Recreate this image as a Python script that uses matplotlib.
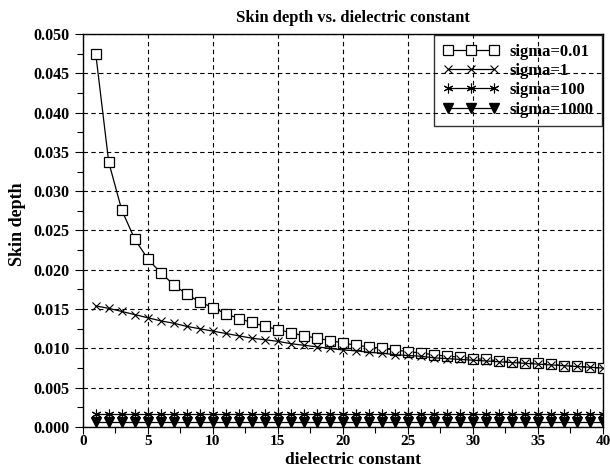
import matplotlib
matplotlib.use("Agg")
import matplotlib.pyplot as plt
from matplotlib.ticker import MultipleLocator, FormatStrFormatter

eps_r = list(range(1, 41))

depth_sigma_001 = [0.0475, 0.0337, 0.0276, 0.0239, 0.0214, 0.0196, 0.0181, 0.0169,
                   0.0159, 0.0152, 0.0144, 0.0138, 0.0133, 0.0128, 0.0124, 0.0120,
                   0.0116, 0.0113, 0.0110, 0.0107, 0.0104, 0.0102, 0.0100, 0.0098,
                   0.0096, 0.0094, 0.0092, 0.0090, 0.0089, 0.0087, 0.0086, 0.0084,
                   0.0083, 0.0082, 0.0081, 0.0080, 0.0078, 0.0077, 0.0076, 0.0075]
depth_sigma_1 = [0.0154, 0.0151, 0.0147, 0.0143, 0.0139, 0.0135, 0.0132, 0.0128,
                 0.0125, 0.0122, 0.0119, 0.0116, 0.0113, 0.0111, 0.0109, 0.0106,
                 0.0104, 0.0102, 0.0100, 0.0098, 0.0097, 0.0095, 0.0094, 0.0092,
                 0.0091, 0.0090, 0.0088, 0.0087, 0.0086, 0.0085, 0.0084, 0.0083,
                 0.0082, 0.0081, 0.0080, 0.0079, 0.0078, 0.0077, 0.0076, 0.0075]
depth_sigma_100 = [0.0017] * 40
depth_sigma_1000 = [0.0006] * 40

series_labels = ["sigma=0.01", "sigma=1", "sigma=100", "sigma=1000"]
x_ticks = [0, 5, 10, 15, 20, 25, 30, 35, 40]
y_ticks = [0.000, 0.005, 0.010, 0.015, 0.020, 0.025, 0.030, 0.035, 0.040, 0.045, 0.050]

plt.rcParams["font.family"] = ["Liberation Serif", "DejaVu Serif"]
plt.rcParams["font.weight"] = "bold"

fig = plt.figure(figsize=(6.10, 4.68), dpi=100)
ax = fig.add_axes([0.1356, 0.0876, 0.8529, 0.8398])

line_kw = dict(color="black", linewidth=0.9)
ax.plot(eps_r, depth_sigma_001, marker="s", markersize=6.5, markerfacecolor="white",
        markeredgecolor="black", markeredgewidth=0.9, label=series_labels[0], zorder=3,
        **line_kw)
ax.plot(eps_r, depth_sigma_1, marker="x", markersize=6, markeredgewidth=0.8,
        label=series_labels[1], zorder=4, **line_kw)
ax.plot(eps_r, depth_sigma_100, marker=(6, 2, 0), markersize=7, markeredgewidth=0.8,
        label=series_labels[2], zorder=4, **line_kw)
ax.plot(eps_r, depth_sigma_1000, marker="v", markersize=6.5, markerfacecolor="black",
        label=series_labels[3], zorder=4, **line_kw)

ax.set_xlim(0, 40)
ax.set_ylim(0, 0.050)
ax.set_xticks(x_ticks)
ax.set_yticks(y_ticks)
ax.xaxis.set_minor_locator(MultipleLocator(2.5))
ax.yaxis.set_minor_locator(MultipleLocator(0.0025))
ax.yaxis.set_major_formatter(FormatStrFormatter("%.3f"))
ax.tick_params(axis="y", which="major", direction="out", length=6, width=0.8,
               labelsize=11.5, right=False)
ax.tick_params(axis="x", which="major", direction="out", length=5, width=0.8,
               pad=1, labelsize=11, top=False)
ax.tick_params(axis="both", which="minor", direction="out", length=4, width=0.8,
               top=False, right=False)
for lab in ax.get_xticklabels() + ax.get_yticklabels():
    lab.set_fontweight("bold")

ax.grid(True, which="major", linestyle=(0, (4, 3)), color="black", linewidth=0.8)
for side in ax.spines.values():
    side.set_linewidth(1.0)

fig.text(353 / 610, 1 - 18 / 468, "Skin depth vs. dielectric constant",
         fontsize=12, fontweight="bold", ha="center", va="center")
ax.set_xlabel("dielectric constant", fontsize=12.5, fontweight="bold", va="center")
ax.xaxis.set_label_coords((353 - 82.7) / 520.3, -32.5 / 393)
ax.set_ylabel("Skin depth", fontsize=13, fontweight="bold", labelpad=5, y=0.5165)

leg = ax.legend(loc="upper right", numpoints=3, fontsize=12, frameon=True,
                facecolor="none", edgecolor="black", fancybox=False,
                borderaxespad=0.08, handlelength=3.4, handletextpad=0.6,
                labelspacing=0.2, borderpad=0.5)
leg.get_frame().set_linewidth(1.0)
for t in leg.get_texts():
    t.set_fontweight("bold")

fig.savefig("out.png", dpi=100)
